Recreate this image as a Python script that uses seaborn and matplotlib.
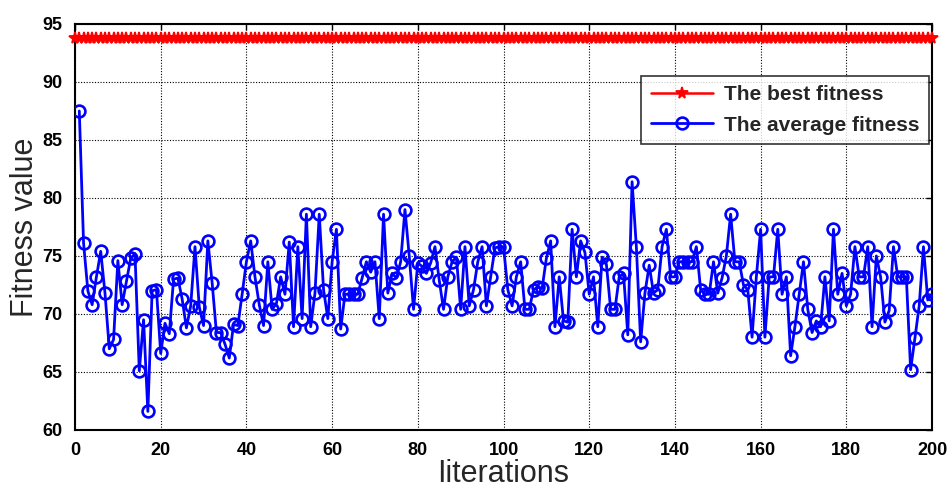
import numpy as np
import pandas as pd
import matplotlib
matplotlib.use("Agg")
import matplotlib.pyplot as plt
import seaborn as sns

# ---- data ----
iterations = list(range(1, 201))
best_iterations = list(range(0, 201))
best_value = 93.8
average_fitness = [
    87.5, 76.1, 72.0, 70.8, 73.2, 75.4, 71.8, 67.0, 67.8, 74.6,
    70.8, 72.8, 74.8, 75.2, 65.1, 69.5, 61.6, 72.0, 72.1, 66.6,
    69.2, 68.3, 73.0, 73.1, 71.3, 68.8, 70.7, 75.8, 70.6, 69.0,
    76.3, 72.7, 68.4, 68.4, 67.4, 66.2, 69.1, 69.0, 71.7, 74.5,
    76.3, 73.2, 70.8, 69.0, 74.5, 70.4, 70.9, 73.2, 71.7, 76.2,
    68.9, 75.8, 69.6, 78.6, 68.9, 71.8, 78.6, 72.1, 69.6, 74.5,
    77.3, 68.7, 71.7, 71.7, 71.7, 71.7, 73.1, 74.5, 73.6, 74.5,
    69.6, 78.6, 71.8, 73.5, 73.1, 74.5, 79.0, 75.0, 70.4, 74.4,
    74.1, 73.5, 74.4, 75.8, 72.9, 70.4, 73.2, 74.5, 74.9, 70.4,
    75.8, 70.7, 72.1, 74.5, 75.8, 70.7, 73.2, 75.7, 75.8, 75.8,
    72.1, 70.7, 73.2, 74.5, 70.4, 70.4, 72.1, 72.3, 72.2, 74.8,
    76.3, 68.9, 73.2, 69.4, 69.3, 77.3, 73.2, 76.3, 75.3, 71.7,
    73.2, 68.9, 74.9, 74.3, 70.4, 70.4, 73.2, 73.5, 68.2, 81.4,
    75.8, 67.6, 71.8, 74.2, 71.8, 72.1, 75.8, 77.3, 73.2, 73.2,
    74.5, 74.5, 74.5, 74.5, 75.8, 72.1, 71.7, 71.7, 74.5, 71.8,
    73.1, 75.0, 78.6, 74.5, 74.5, 72.5, 72.1, 68.0, 73.2, 77.3,
    68.0, 73.2, 73.2, 77.3, 71.7, 73.2, 66.4, 68.9, 71.7, 74.5,
    70.4, 68.4, 69.4, 68.9, 73.2, 69.4, 77.3, 71.7, 73.5, 70.7,
    71.7, 75.8, 73.2, 73.2, 75.8, 68.9, 75.0, 73.2, 69.3, 70.3,
    75.8, 73.2, 73.2, 73.2, 65.2, 67.9, 70.7, 75.8, 71.2, 71.7,
]
x_ticks = [0, 20, 40, 60, 80, 100, 120, 140, 160, 180, 200]
y_ticks = [60, 65, 70, 75, 80, 85, 90, 95]
label_best = "The best fitness"
label_avg = "The average fitness"
x_label = "Iiterations"
y_label = "Fitness value"

avg_df = pd.DataFrame({"iteration": iterations, "fitness": average_fitness})
best_df = pd.DataFrame({"iteration": best_iterations,
                        "fitness": np.full(len(best_iterations), best_value)})

sns.set_style("white")
plt.rcParams["font.family"] = ["Liberation Sans", "DejaVu Sans"]

fig = plt.figure(figsize=(9.47, 4.88), dpi=100)
ax = fig.add_axes([0.0792, 0.1189, 0.905, 0.832])

sns.lineplot(data=best_df, x="iteration", y="fitness", ax=ax, color="red",
             linewidth=1.8, marker="*", markersize=8.5, markeredgewidth=1.3,
             markeredgecolor="red", label=label_best, zorder=3, clip_on=False)
sns.lineplot(data=avg_df, x="iteration", y="fitness", ax=ax, color="blue",
             linewidth=2, marker="o", markersize=8.5, markerfacecolor="none",
             markeredgecolor="blue", markeredgewidth=1.9, label=label_avg,
             zorder=4)

ax.set_xlim(0, 200)
ax.set_ylim(60, 95)
ax.set_xticks(x_ticks)
ax.set_yticks(y_ticks)
ax.grid(True, color="black", linestyle=(0, (1, 1.5)), linewidth=0.8)
ax.tick_params(direction="in", length=4, width=1, top=True, right=True,
               labelsize=13, pad=9, colors="black")
for lbl in ax.get_xticklabels() + ax.get_yticklabels():
    lbl.set_fontweight("bold")
for sp in ax.spines.values():
    sp.set_color("black")
    sp.set_linewidth(1.5)

ax.set_xlabel(x_label, fontsize=22, labelpad=0)
ax.set_ylabel(y_label, fontsize=22, labelpad=2)

leg = ax.legend(loc="upper right", bbox_to_anchor=(0.996, 0.872),
                borderaxespad=0, frameon=True, fancybox=False,
                prop={"weight": "bold", "size": 15}, handlelength=3.0,
                handletextpad=0.5, labelspacing=0.55, borderpad=0.45)
leg.get_frame().set_edgecolor("black")
leg.get_frame().set_linewidth(1.2)

fig.savefig("out.png", dpi=100)
